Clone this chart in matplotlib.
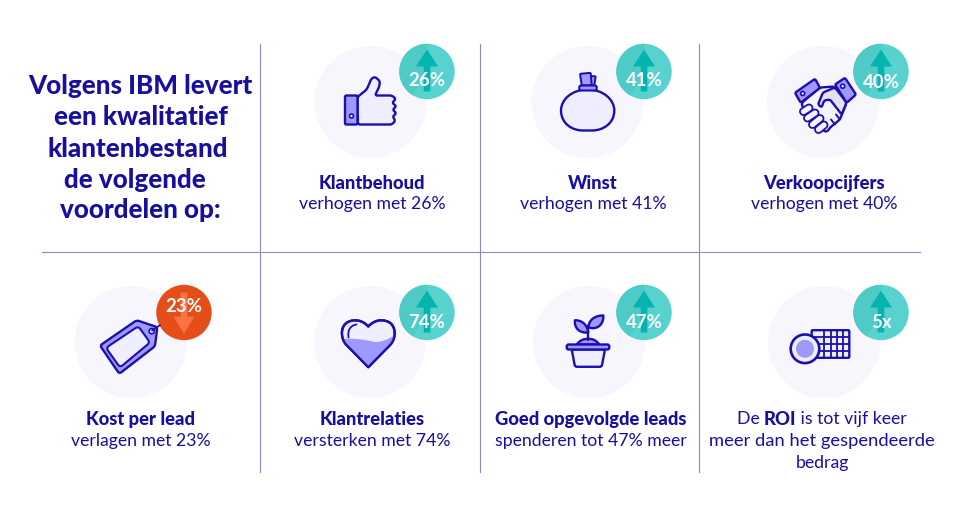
import numpy as np
import matplotlib
matplotlib.use("Agg")
import matplotlib.pyplot as plt
from matplotlib.patches import Circle, Polygon, PathPatch, FancyBboxPatch, Wedge
from matplotlib.path import Path

# ---- content ----
title_lines = ["Volgens IBM levert", "een kwalitatief", "klantenbestand", "de volgende", "voordelen op:"]
title_x = [140.5, 141, 137.5, 134.5, 140.5]
title_y = [85, 116, 148, 179, 210]

badge_labels = ["26%", "41%", "40%", "23%", "74%", "47%", "5x"]
badge_dirs = ["up", "up", "up", "down", "up", "up", "up"]
headings = ["Klantbehoud", "Winst", "Verkoopcijfers", "Kost per lead", "Klantrelaties", "Goed opgevolgde leads"]
sublines = ["verhogen met 26%", "verhogen met 41%", "verhogen met 40%", "verlagen met 23%", "versterken met 74%", "spenderen tot 47% meer"]
text_x = [372, 593, 824, 141, 372, 591]
text_y = [183, 183, 183, 419, 419, 419]
sub_y = [204, 204, 204, 441, 441, 441]

bg_x = [370.5, 587.5, 823, 131, 370, 589, 824]
bg_y = [102.5, 102.5, 102.5, 342.5, 342.5, 342.5, 342.5]
badge_x = [427, 644, 881, 184, 427, 644, 881]
badge_y = [72, 72, 72, 313, 313, 313, 313]
label_y = [79.5, 80, 81.5, 306.5, 322.5, 322.5, 322.5]

INK = "#1c0fb0"
TXT = "#170f9f"
LIGHT = "#efeeff"
MID = "#9d99ff"
BG = "#f6f6fc"
TEAL = "#57d2cf"
TEAL_D = "#4ecac7"
ARROW = "#05b4ae"
RED = "#e54e17"
RED_D = "#fa7344"
RULE = "#8d89c8"
FONT = "Lato"
LW = 1.7
H_SIZE = 13.2
S_SIZE = 12.7

fig = plt.figure(figsize=(9.61, 5.06), dpi=100, facecolor="white")
ax = fig.add_axes([0, 0, 1, 1])
ax.set_xlim(0, 961)
ax.set_ylim(505.5, -0.5)
ax.axis("off")


def bez(start, segs, fc=LIGHT, lw=LW, z=5, ec=INK, close=True):
    verts, codes = [start], [Path.MOVETO]
    for s in segs:
        if len(s) == 1:
            verts += s
            codes += [Path.LINETO]
        else:
            verts += s
            codes += [Path.CURVE4] * 3
    if close:
        verts.append(start)
        codes.append(Path.CLOSEPOLY)
    patch = PathPatch(Path(verts, codes), fc=fc, ec=ec, lw=lw, zorder=z, joinstyle="round", capstyle="round")
    ax.add_patch(patch)
    return patch


def rpoly(pts, r=1.5, fc=LIGHT, lw=LW, z=5):
    """Polygon with rounded corners."""
    p = np.array(pts, float)
    n = len(p)
    verts, codes = [], []
    for i in range(n):
        a, b, c = p[i - 1], p[i], p[(i + 1) % n]
        rr = min(r, np.linalg.norm(a - b) / 2, np.linalg.norm(c - b) / 2)
        b0 = b + (a - b) / np.linalg.norm(a - b) * rr
        b1 = b + (c - b) / np.linalg.norm(c - b) * rr
        verts += [b0, b, b1]
        codes += [Path.MOVETO if i == 0 else Path.LINETO, Path.CURVE3, Path.CURVE3]
    verts.append(verts[0])
    codes.append(Path.CLOSEPOLY)
    patch = PathPatch(Path(verts, codes), fc=fc, ec=INK, lw=lw, zorder=z, joinstyle="round")
    ax.add_patch(patch)
    return patch


def rrect(x0, y0, x1, y1, r=1.5, fc=LIGHT, lw=LW, z=5):
    ax.add_patch(FancyBboxPatch((x0, y0), x1 - x0, y1 - y0, boxstyle=f"round,pad=0,rounding_size={r}",
                                fc=fc, ec=INK, lw=lw, zorder=z))


def line(xs, ys, lw=LW, c=INK, z=6):
    ax.plot(xs, ys, color=c, lw=lw, solid_capstyle="round", solid_joinstyle="round", zorder=z)


def circ(x, y, r, fc=LIGHT, lw=LW, z=6, ec=INK):
    ax.add_patch(Circle((x, y), r, fc=fc, ec=ec, lw=lw, zorder=z))


# ---- rules ----
for vx in (260, 480, 699):
    ax.plot([vx, vx], [44, 472], color=RULE, lw=0.8, zorder=1)
ax.plot([42, 920], [252, 252], color=RULE, lw=0.8, zorder=1)

# ---- circles + arrows ----
for bx, by in zip(bg_x, bg_y):
    ax.add_patch(Circle((bx, by), 56, fc=BG, ec="none", zorder=2))

for x, y, d, lab, ly in zip(badge_x, badge_y, badge_dirs, badge_labels, label_y):
    up = d == "up"
    ax.add_patch(Circle((x, y), 27.7, fc=TEAL if up else RED, ec="none", zorder=3))
    if up:
        ax.add_patch(Wedge((x, y), 27.7, 120, 270, fc=TEAL_D, ec="none", zorder=3))
        ax.add_patch(Polygon([(x, y - 22), (x + 11, y - 5), (x + 3.3, y - 5), (x + 3.3, y + 20),
                              (x - 3.3, y + 20), (x - 3.3, y - 5), (x - 11, y - 5)], fc=ARROW, ec="none", zorder=4))
    else:
        ax.add_patch(Polygon([(x, y + 21), (x + 10.5, y + 4), (x + 3.3, y + 4), (x + 3.3, y - 20),
                              (x - 3.3, y - 20), (x - 3.3, y + 4), (x - 10.5, y + 4)], fc=RED_D, ec="none", zorder=4))
    ax.text(x, ly, lab, color="white", fontsize=13.4, fontweight="bold", family=FONT,
            ha="center", va="center", zorder=8)

# ---- thumb ----
rpoly([(357.5, 97.5), (366.7, 90), (371.5, 79), (375, 77.3), (380, 81.7), (379.3, 87), (375, 96), (392, 96),
       (396, 99.5), (392, 103.2), (396.5, 106.7), (392.5, 110.2), (396.5, 113.7), (392.5, 117.2), (395.5, 121),
       (392, 125), (358, 125)], r=2.2)
rrect(345, 96, 357.5, 125, r=1.5, fc=MID)
circ(351.5, 116.5, 2, fc=LIGHT, lw=1.2)

# ---- bag ----
bez((587.7, 90), [[(603, 90), (614.3, 100), (614.3, 111)], [(614.3, 124), (603, 131), (592, 131)], [(583, 131)],
                  [(572, 131), (561, 124), (561, 111)], [(561, 100), (572, 90), (587.7, 90)]], fc=LIGHT)
rpoly([(590.7, 76.7), (595.7, 76.7), (594.3, 86), (590, 86)], fc=MID, lw=1.4, r=1)
rpoly([(580, 74.3), (590.7, 73.3), (591.7, 86), (581.7, 86)], fc=MID, lw=1.4, r=1)
rrect(579.3, 86, 596.7, 91, r=1.8, fc=MID, lw=1.5, z=6)

# ---- handshake ----
rpoly([(801, 104), (820, 88), (835, 87), (846.7, 103.3), (843, 112), (840, 120), (830, 128), (826.7, 133), (812, 124)],
      r=3, fc="#f3f3fb", z=5)
rpoly([(818, 105), (823, 93), (835, 88), (846.5, 103), (841.7, 115), (830, 100), (824, 101), (821.7, 108)], r=2, fc="#e3e3ef")
rpoly([(795, 93.3), (815, 79.3), (820, 88.3), (800.7, 103.3)], fc=MID)
rpoly([(835, 85), (845, 78.3), (856, 95), (846.7, 103.3)], fc=MID)
circ(802.7, 94, 2, lw=1.2, fc="white")
circ(842.7, 86.7, 2, lw=1.2, fc="white")
for (x0, y0, x1, y1) in [(803.5, 112, 809, 108.5), (807.5, 118.5, 815, 113.5), (812.5, 125, 820, 119), (818.5, 130, 824, 125.5)]:
    line([x0, x1], [y0, y1], lw=6.4, z=6)
    line([x0, x1], [y0, y1], lw=3.8, c="#f3f3fb", z=7)
line([831, 835], [120, 125], lw=1.4); line([836, 840], [115, 120], lw=1.4)

# ---- tag ----
rpoly([(100, 346), (136.7, 320.7), (157.3, 327.7), (155, 346.7), (119.3, 374.3)], fc=MID, r=2.5)
rpoly([(106, 348.3), (138.3, 326.7), (150, 343), (120, 368)], fc=LIGHT, lw=1.5, r=3.5)
circ(151.7, 331.7, 2.6, fc=LIGHT, lw=1.2)
line([152, 160], [331, 325.7], lw=1.3)

# ---- heart ----
hv = [[(346, 345)], [(340, 338), (340.5, 326), (348, 322.5)], [(355, 319), (363, 321), (368.3, 327)],
      [(373.6, 321), (381.6, 319), (388.6, 322.5)], [(396, 326), (396.6, 338), (390.6, 345)]]
tip = (368.3, 367.7)
heart = bez(tip, hv, fc=LIGHT, z=5)
liquid = bez((335, 340), [[(350, 338), (365, 340), (372, 342)], [(380, 344), (388, 340), (400, 333)],
                          [(400, 372)], [(335, 372)]], fc=MID, ec="none", lw=0, z=6)
liquid.set_clip_path(heart.get_path(), heart.get_transform())
bez(tip, hv, fc="none", z=7)
bez((348.5, 338), [[(347.5, 331), (350, 326), (356.5, 325)]], fc="none", z=7, lw=1.3, close=False)

# ---- plant ----
rpoly([(571.7, 350), (575, 367.3), (601.7, 367.3), (605, 350)], fc=LIGHT, r=2)
bez((576.7, 345), [[(580, 340.5), (584, 339.3), (588.3, 339.3)], [(592.5, 339.3), (596, 340.5), (599.3, 345)]], fc=MID)
rrect(566.7, 345, 609.3, 350, r=2, fc=MID, z=6)
line([588.3, 588.3], [326, 340])
bez((588.3, 333), [[(587, 324), (581, 320.7), (575, 320.7)], [(574, 328), (579, 334), (588.3, 333)]], fc=MID)
bez((588.3, 328), [[(589, 320), (595, 316), (603.3, 316)], [(604, 324), (598, 331), (588.3, 328)]], fc=MID)

# ---- coins ----
rrect(811.7, 330.7, 849.3, 358.3, r=1, fc=LIGHT, z=5)
for gx in (824, 830.5, 836.5, 843):
    line([gx, gx], [330.7, 358.3], lw=1.3)
for gy in (337.5, 344.5, 351.5):
    line([811.7, 849.3], [gy, gy], lw=1.3)
circ(805, 349.3, 14.3, fc=LIGHT, lw=1.9, z=7)
circ(805, 349.3, 9, fc=MID, lw=0, z=8, ec="none")

# ---- text ----
for s, x, y in zip(title_lines, title_x, title_y):
    ax.text(x, y, s, color=TXT, fontsize=18.7, fontweight="black", family=FONT, ha="center", va="center")
for s, x, y in zip(headings, text_x, text_y):
    ax.text(x, y, s, color=TXT, fontsize=H_SIZE, fontweight="black", family=FONT, ha="center", va="center")
for s, x, y in zip(sublines, text_x, sub_y):
    ax.text(x, y, s, color=TXT, fontsize=S_SIZE, family=FONT, ha="center", va="center")

# mixed-weight ROI line
roi_runs = [("De ", "normal", S_SIZE), ("ROI", "black", H_SIZE), (" is tot vijf keer", "normal", S_SIZE)]
fig.canvas.draw()
rend = fig.canvas.get_renderer()
arts = [ax.text(0, 419, s.replace(" ", "\u00a0"), color=TXT, fontsize=sz, fontweight=w, family=FONT, ha="left", va="center")
        for s, w, sz in roi_runs]
ws = [a.get_window_extent(rend).width for a in arts]
cur = 822 - sum(ws) / 2
for a, w in zip(arts, ws):
    a.set_x(cur)
    cur += w
ax.text(822, 441, "meer dan het gespendeerde", color=TXT, fontsize=13.2, family=FONT, ha="center", va="center")
ax.text(822, 463, "bedrag", color=TXT, fontsize=S_SIZE, family=FONT, ha="center", va="center")

fig.savefig("out.png", dpi=100, facecolor="white")
